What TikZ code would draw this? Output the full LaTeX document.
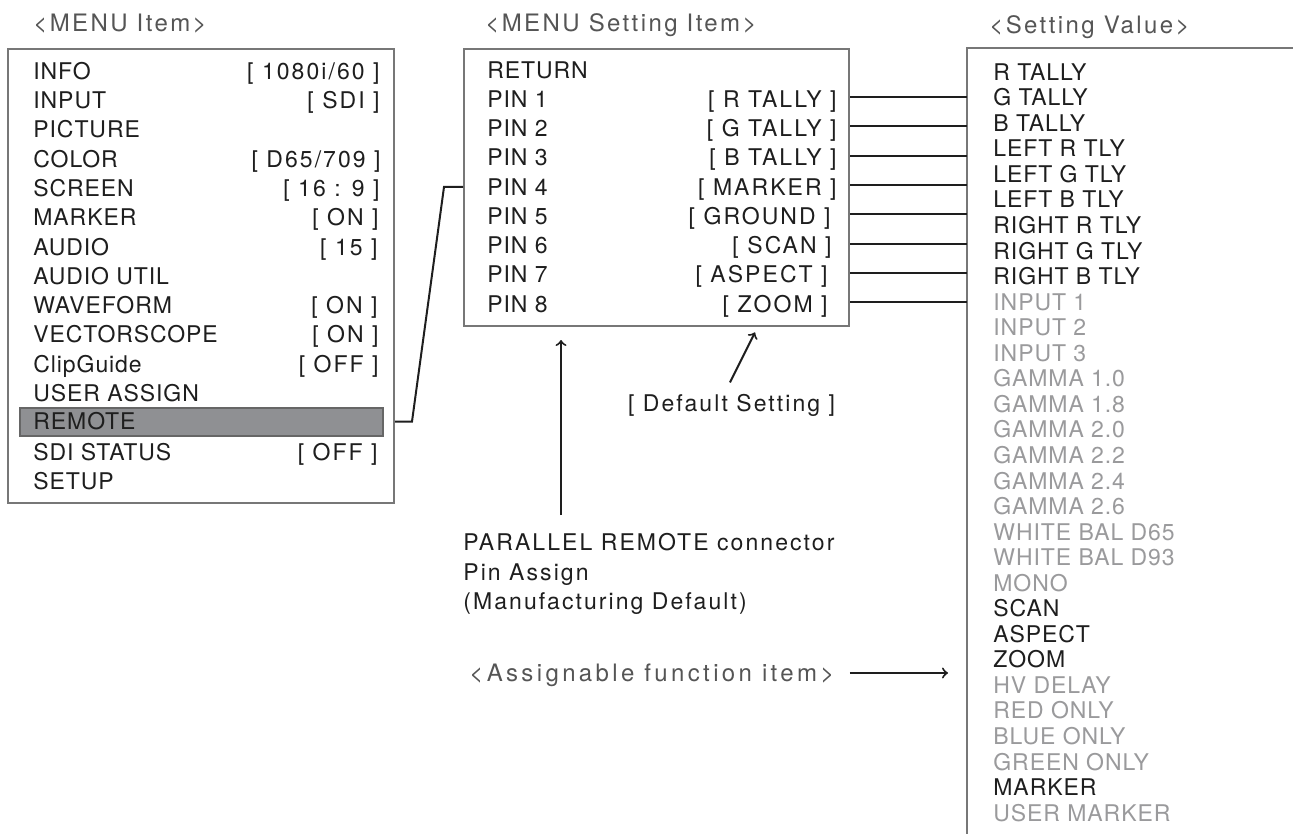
\documentclass[tikz,border=0pt]{standalone}
\usepackage{fontspec}
\usetikzlibrary{calc}
\newfontfamily\heros[LetterSpace=4]{TeX Gyre Heros}
\newfontfamily\herosval[LetterSpace=9]{TeX Gyre Heros}
\newfontfamily\herostitle[LetterSpace=10]{TeX Gyre Heros}
\newfontfamily\herostitlewide[LetterSpace=14]{TeX Gyre Heros}
\newcommand\itemfont{\heros\fontsize{11.5}{13}\selectfont}
\newcommand\valfont{\herosval\fontsize{11.5}{13}\selectfont}
\newcommand\notefont{\herosval\fontsize{11.5}{14.75}\selectfont}
\newcommand\titlefont{\herostitle\fontsize{12}{14}\selectfont}
\newcommand\widetitlefont{\herostitlewide\fontsize{12}{14}\selectfont}
\definecolor{ink}{HTML}{1E1E1E}
\definecolor{dimtext}{HTML}{9A9A9C}
\definecolor{titletext}{HTML}{555555}
\definecolor{boxgray}{HTML}{777777}
\definecolor{hlfill}{HTML}{8F9093}
\definecolor{hlborder}{HTML}{666666}
\tikzset{
  item/.style={anchor=west, inner sep=0pt, text height=8.2pt, text depth=0pt, font=\itemfont, text=ink},
  val/.style={item, anchor=east, font=\valfont},
  dim/.style={item, text=dimtext},
  title/.style={anchor=west, inner sep=0pt, text height=8.6pt, text depth=0pt, font=\titlefont, text=titletext},
  box/.style={draw=boxgray, line width=1pt, anchor=north west, inner sep=0pt},
  wire/.style={draw=ink, line width=1pt},
  arr/.style={wire, ->}
}
\begin{document}
\begin{tikzpicture}[x=0.5pt, y=-0.5pt]
  \useasboundingbox (0,0) rectangle (1293,834);
  % titles
  \node[title] (ttlmenu) at (33,23) {<MENU Item>};
  \node[title] (ttlset) at (485,23) {<MENU Setting Item>};
  \node[title] (ttlval) at (989,25) {<Setting Value>};

  % menu item box
  \node[box, minimum width=193pt, minimum height=227pt] (menubox) at (7,48) {};
  \node[draw=hlborder, fill=hlfill, line width=0.75pt, anchor=north west, inner sep=0pt,
        minimum width=181.5pt, minimum height=14pt] (hl) at (19,407) {};
  \node[item] (info) at (33,71) {INFO};
  \node[val] (infov) at (380,71) {[ 1080i/60 ]};
  \node[item] (input) at (33,100.3) {INPUT};
  \node[val] (inputv) at (380,100.3) {[ SDI ]};
  \node[item] (picture) at (33,129.6) {PICTURE};
  \node[item] (color) at (33,158.9) {COLOR};
  \node[val] (colorv) at (381,158.9) {[ D65/709 ]};
  \node[item] (screen) at (33,188.2) {SCREEN};
  \node[val] (screenv) at (380,188.2) {[ 16 : 9 ]};
  \node[item] (marker) at (33,217.5) {MARKER};
  \node[val] (markerv) at (379,217.5) {[ ON ]};
  \node[item] (audio) at (33,246.8) {AUDIO};
  \node[val] (audiov) at (378,246.8) {[ 15 ]};
  \node[item] (autil) at (33,276.1) {AUDIO UTIL};
  \node[item] (wave) at (33,305.4) {WAVEFORM};
  \node[val] (wavev) at (378,305.4) {[ ON ]};
  \node[item] (vector) at (33,334.7) {VECTORSCOPE};
  \node[val] (vectorv) at (379,334.7) {[ ON ]};
  \node[item] (clip) at (33,364) {ClipGuide};
  \node[val] (clipv) at (379,364) {[ OFF ]};
  \node[item] (uassign) at (33,393.3) {USER ASSIGN};
  \node[item] (remote) at (33,421.5) {REMOTE};
  \node[item] (sdi) at (33,451.9) {SDI STATUS};
  \node[val] (sdiv) at (378,451.9) {[ OFF ]};
  \node[item] (setup) at (33,481.2) {SETUP};

  % menu setting item box
  \node[box, minimum width=192.5pt, minimum height=138.5pt] (setbox) at (463,48) {};
  \node[item] (ret) at (487,70) {RETURN};
  \node[item] (pin1) at (487,99.25) {PIN 1};
  \node[val] (pin1v) at (837,99.25) {[ R TALLY ]};
  \node[item] (pin2) at (487,128.5) {PIN 2};
  \node[val] (pin2v) at (837,128.5) {[ G TALLY ]};
  \node[item] (pin3) at (487,157.75) {PIN 3};
  \node[val] (pin3v) at (837,157.75) {[ B TALLY ]};
  \node[item] (pin4) at (487,187) {PIN 4};
  \node[val] (pin4v) at (837,187) {[ MARKER ]};
  \node[item] (pin5) at (487,216.25) {PIN 5};
  \node[val] (pin5v) at (831,216.25) {[ GROUND ]};
  \node[item] (pin6) at (487,245.5) {PIN 6};
  \node[val] (pin6v) at (832,245.5) {[ SCAN ]};
  \node[item] (pin7) at (487,274.75) {PIN 7};
  \node[val] (pin7v) at (828,274.75) {[ ASPECT ]};
  \node[item] (pin8) at (487,304) {PIN 8};
  \node[val] (pin8v) at (828,304) {[ ZOOM ]};

  % setting value list (open box)
  \coordinate (valbox) at (967,48);
  \draw[boxgray, line width=1pt] (1293,48) -- (valbox) -- (967,834);
  \foreach \txt/\sty [count=\i from 0] in {R TALLY/item, G TALLY/item, B TALLY/item,
      LEFT R TLY/item, LEFT G TLY/item, LEFT B TLY/item, RIGHT R TLY/item,
      RIGHT G TLY/item, RIGHT B TLY/item, INPUT 1/dim, INPUT 2/dim, INPUT 3/dim,
      GAMMA 1.0/dim, GAMMA 1.8/dim, GAMMA 2.0/dim, GAMMA 2.2/dim, GAMMA 2.4/dim,
      GAMMA 2.6/dim, WHITE BAL D65/dim, WHITE BAL D93/dim, MONO/dim, SCAN/item,
      ASPECT/item, ZOOM/item, HV DELAY/dim, RED ONLY/dim, BLUE ONLY/dim,
      GREEN ONLY/dim, MARKER/item, USER MARKER/dim}
    \node[\sty] (sv\i) at (993,{72+25.55*\i}) {\txt};

  % connectors
  \draw[wire] (menubox.east |- remote) -- ++(17,0) -- ($(setbox.west |- pin4)+(-19,0)$)
    -- (setbox.west |- pin4);
  \foreach \p in {1,...,8}
    \draw[wire] ($(setbox.east |- pin\p v)+(0,-2)$) -- ($(valbox |- pin\p v)+(0,-2)$);

  % notes
  \node[anchor=north west, inner sep=0pt, align=left, font=\notefont, text=ink]
    (pinnote) at (463,533) {PARALLEL REMOTE connector\\Pin Assign\\(Manufacturing Default)};
  \coordinate (pinup) at ($(pinnote.north west)+(98,-18)$);
  \draw[arr, shorten >=6.5pt] (pinup) -- (pinup |- setbox.south);
  \node[item, anchor=center, font=\valfont] (defnote) at (731.5,403) {[ Default Setting ]};
  \draw[arr] ($(defnote.north)+(-1.5,-12)$) -- ($(defnote.north)+(23.5,-62)$);
  \node[title, font=\widetitlefont] (assign) at (469,673) {<Assignable function item>};
  \draw[arr] ($(assign.east)+(15,0)$) -- ($(valbox |- assign.east)+(-19,0)$);
\end{tikzpicture}
\end{document}
